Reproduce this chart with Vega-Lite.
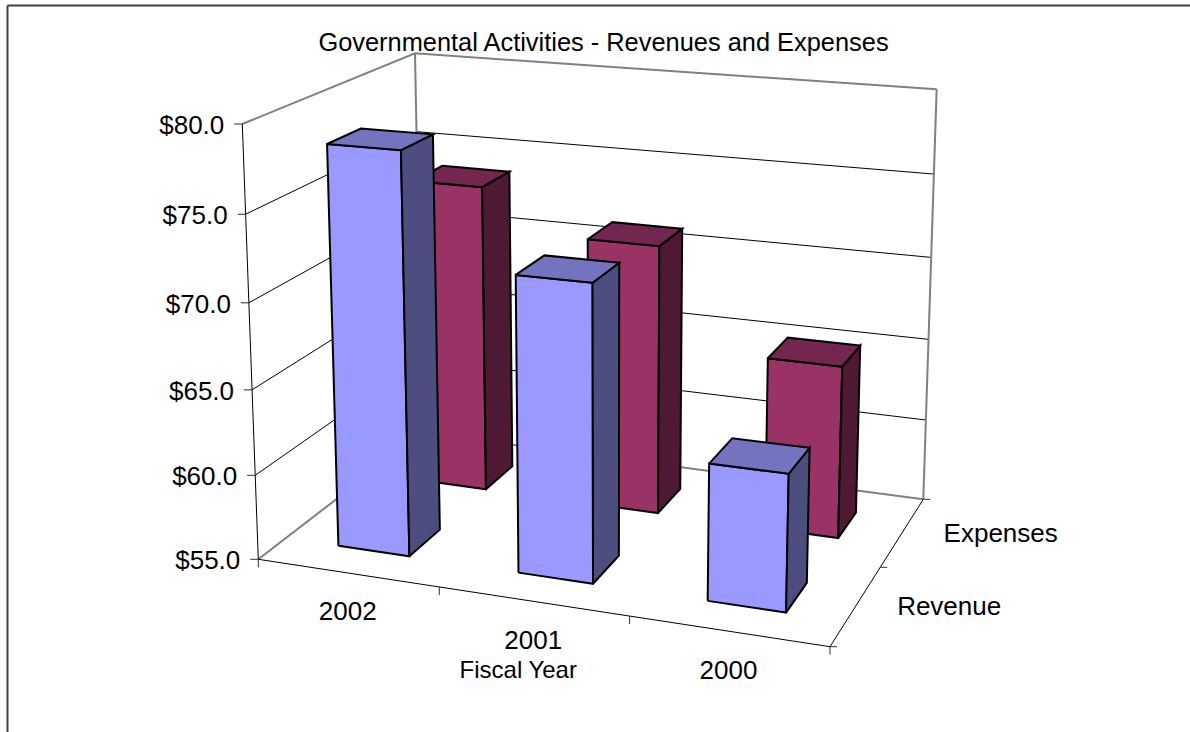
{
  "$schema": "https://vega.github.io/schema/vega-lite/v6.json",
  "width": 1183,
  "height": 727,
  "autosize": "none",
  "padding": {"left": 7, "top": 5, "right": 0, "bottom": 0},
  "background": "white",
  "view": {"stroke": null},
  "config": {"font": "Liberation Sans"},
  "title": {
    "text": "Governmental Activities - Revenues and Expenses",
    "font": "Liberation Sans",
    "fontSize": 25.4,
    "fontWeight": "normal",
    "color": "black",
    "anchor": "middle",
    "dx": 5,
    "offset": -51
  },
  "datasets": {
    "bars": [
      {"year": "2002", "series": "Expenses", "value": 73.85},
      {"year": "2001", "series": "Expenses", "value": 71.3},
      {"year": "2000", "series": "Expenses", "value": 65.3},
      {"year": "2002", "series": "Revenue", "value": 78.45},
      {"year": "2001", "series": "Revenue", "value": 72.1},
      {"year": "2000", "series": "Revenue", "value": 62.8}
    ],
    "levels": [
      {"level": 55}, {"level": 60}, {"level": 65}, {"level": 70}, {"level": 75}, {"level": 80}
    ],
    "yearTicks": [{"tick": 0}, {"tick": 1}, {"tick": 2}, {"tick": 3}],
    "depthTicks": [{"tick": 0}, {"tick": 1}, {"tick": 2}],
    "years": [{"year": "2002", "slot": 0}, {"year": "2001", "slot": 1}, {"year": "2000", "slot": 2}],
    "depths": [{"series": "Revenue", "slot": 0}, {"series": "Expenses", "slot": 1}],
    "axisName": [{"name": "Fiscal Year"}]
  },
  "encoding": {
    "x": {
      "field": "sx",
      "type": "quantitative",
      "scale": {"domain": [7, 1190], "nice": false, "zero": false},
      "axis": {"orient": "top", "title": null, "labels": false, "ticks": false, "grid": false, "domainColor": "#404040", "domainWidth": 2}
    },
    "y": {
      "field": "sy",
      "type": "quantitative",
      "scale": {"domain": [5, 732], "reverse": true, "nice": false, "zero": false},
      "axis": {"orient": "left", "title": null, "labels": false, "ticks": false, "grid": false, "domainColor": "#404040", "domainWidth": 2}
    }
  },
  "layer": [
    {
      "data": {"name": "levels"},
      "transform": [
        {"filter": "datum.level > 55 && datum.level < 80"},
        {"calculate": "[{n:0,X:0,Y:0},{n:1,X:0,Y:1},{n:2,X:1,Y:1}]", "as": "c"},
        {"flatten": ["c"]},
        {"calculate": "datum.c.X", "as": "X"},
        {"calculate": "datum.c.Y", "as": "Y"},
        {"calculate": "(datum.level-55)/25", "as": "Z"},
        {"calculate": "-0.07351*datum.X+0.1548*datum.Y-0.04383*datum.Z+1", "as": "w"},
        {"calculate": "(510.69*datum.X+229.37*datum.Y-26.62*datum.Z+258.3)/datum.w", "as": "sx"},
        {"calculate": "(39.86*datum.X-59.27*datum.Y-440.73*datum.Z-6.5*datum.X*datum.Z+559.3)/datum.w", "as": "sy"},
        {"calculate": "datum.c.n", "as": "n"}
      ],
      "mark": {"type": "line", "stroke": "black", "strokeWidth": 1},
      "encoding": {"detail": {"field": "level"}, "order": {"field": "n", "type": "quantitative"}}
    },
    {
      "data": {"name": "levels"},
      "transform": [
        {"filter": "datum.level === 55 || datum.level === 80"},
        {"calculate": "[{n:0,X:0,Y:0},{n:1,X:0,Y:1},{n:2,X:1,Y:1}]", "as": "c"},
        {"flatten": ["c"]},
        {"calculate": "datum.c.X", "as": "X"},
        {"calculate": "datum.c.Y", "as": "Y"},
        {"calculate": "(datum.level-55)/25", "as": "Z"},
        {"calculate": "-0.07351*datum.X+0.1548*datum.Y-0.04383*datum.Z+1", "as": "w"},
        {"calculate": "(510.69*datum.X+229.37*datum.Y-26.62*datum.Z+258.3)/datum.w", "as": "sx"},
        {"calculate": "(39.86*datum.X-59.27*datum.Y-440.73*datum.Z-6.5*datum.X*datum.Z+559.3)/datum.w", "as": "sy"},
        {"calculate": "datum.c.n", "as": "n"}
      ],
      "mark": {"type": "line", "stroke": "#808080", "strokeWidth": 2},
      "encoding": {"detail": {"field": "level"}, "order": {"field": "n", "type": "quantitative"}}
    },
    {
      "data": {"name": "levels"},
      "transform": [
        {"filter": "datum.level === 55 || datum.level === 80"},
        {"calculate": "[{e:'back left',X:0},{e:'back right',X:1}]", "as": "c"},
        {"flatten": ["c"]},
        {"calculate": "datum.c.X", "as": "X"},
        {"calculate": "datum.c.e", "as": "edge"},
        {"calculate": "(datum.level-55)/25", "as": "Z"},
        {"calculate": "-0.07351*datum.X+0.1548-0.04383*datum.Z+1", "as": "w"},
        {"calculate": "(510.69*datum.X+229.37-26.62*datum.Z+258.3)/datum.w", "as": "sx"},
        {"calculate": "(39.86*datum.X-59.27-440.73*datum.Z-6.5*datum.X*datum.Z+559.3)/datum.w", "as": "sy"}
      ],
      "mark": {"type": "line", "stroke": "#808080", "strokeWidth": 2},
      "encoding": {"detail": {"field": "edge"}, "order": {"field": "level", "type": "quantitative"}}
    },
    {
      "data": {"name": "levels"},
      "transform": [
        {"filter": "datum.level === 55 || datum.level === 80"},
        {"calculate": "(datum.level-55)/25", "as": "Z"},
        {"calculate": "1-0.04383*datum.Z", "as": "w"},
        {"calculate": "(258.3-26.62*datum.Z)/datum.w", "as": "sx"},
        {"calculate": "(559.3-440.73*datum.Z)/datum.w", "as": "sy"}
      ],
      "mark": {"type": "line", "stroke": "black", "strokeWidth": 1},
      "encoding": {"order": {"field": "level", "type": "quantitative"}}
    },
    {
      "data": {"name": "levels"},
      "transform": [
        {"filter": "datum.level === 55"},
        {"calculate": "[{n:0,X:0,Y:0},{n:1,X:1,Y:0},{n:2,X:1,Y:1}]", "as": "c"},
        {"flatten": ["c"]},
        {"calculate": "datum.c.X", "as": "X"},
        {"calculate": "datum.c.Y", "as": "Y"},
        {"calculate": "datum.c.n", "as": "n"},
        {"calculate": "-0.07351*datum.X+0.1548*datum.Y+1", "as": "w"},
        {"calculate": "(510.69*datum.X+229.37*datum.Y+258.3)/datum.w", "as": "sx"},
        {"calculate": "(39.86*datum.X-59.27*datum.Y+559.3)/datum.w", "as": "sy"}
      ],
      "mark": {"type": "line", "stroke": "black", "strokeWidth": 1},
      "encoding": {"order": {"field": "n", "type": "quantitative"}}
    },
    {
      "data": {"name": "bars"},
      "transform": [
        {"calculate": "indexof(['2002','2001','2000'],datum.year)", "as": "slot"},
        {"calculate": "(datum.slot+0.3)/3", "as": "x0"},
        {"calculate": "(datum.slot+0.7)/3", "as": "x1"},
        {"calculate": "datum.series==='Revenue'?0.15:0.65", "as": "y0"},
        {"calculate": "datum.y0+0.19", "as": "y1"},
        {"calculate": "(datum.value-55)/25", "as": "h"},
        {"calculate": "[{f:'front',n:0,u:0,v:0,t:0},{f:'front',n:1,u:1,v:0,t:0},{f:'front',n:2,u:1,v:0,t:1},{f:'front',n:3,u:0,v:0,t:1},{f:'front',n:4,u:0,v:0,t:0},{f:'side',n:0,u:1,v:0,t:0},{f:'side',n:1,u:1,v:1,t:0},{f:'side',n:2,u:1,v:1,t:1},{f:'side',n:3,u:1,v:0,t:1},{f:'side',n:4,u:1,v:0,t:0},{f:'top',n:0,u:0,v:0,t:1},{f:'top',n:1,u:1,v:0,t:1},{f:'top',n:2,u:1,v:1,t:1},{f:'top',n:3,u:0,v:1,t:1},{f:'top',n:4,u:0,v:0,t:1}]", "as": "c"},
        {"flatten": ["c"]},
        {"calculate": "datum.c.n", "as": "n"},
        {"calculate": "datum.series+' '+datum.c.f", "as": "shade"},
        {"calculate": "datum.year+' '+datum.shade", "as": "face"},
        {"calculate": "datum.c.u?datum.x1:datum.x0", "as": "X"},
        {"calculate": "datum.c.v?datum.y1:datum.y0", "as": "Y"},
        {"calculate": "datum.c.t?datum.h:0", "as": "Z"},
        {"calculate": "-0.07351*datum.X+0.1548*datum.Y-0.04383*datum.Z+1", "as": "w"},
        {"calculate": "(510.69*datum.X+229.37*datum.Y-26.62*datum.Z+258.3)/datum.w", "as": "sx"},
        {"calculate": "(39.86*datum.X-59.27*datum.Y-440.73*datum.Z-6.5*datum.X*datum.Z+559.3)/datum.w", "as": "sy"}
      ],
      "mark": {"type": "line", "stroke": "black", "strokeWidth": 2, "strokeJoin": "miter"},
      "encoding": {
        "detail": {"field": "face"},
        "order": {"field": "n", "type": "quantitative"},
        "fill": {
          "field": "shade",
          "type": "nominal",
          "legend": null,
          "scale": {
            "domain": ["Revenue front", "Revenue side", "Revenue top", "Expenses front", "Expenses side", "Expenses top"],
            "range": ["#9999FF", "#4D4D80", "#7373BF", "#993366", "#4D1933", "#732650"]
          }
        }
      }
    },
    {
      "data": {"name": "levels"},
      "transform": [
        {"calculate": "(datum.level-55)/25", "as": "Z"},
        {"calculate": "1-0.04383*datum.Z", "as": "w"},
        {"calculate": "(258.3-26.62*datum.Z)/datum.w", "as": "sx"},
        {"calculate": "(559.3-440.73*datum.Z)/datum.w", "as": "sy"},
        {"calculate": "datum.sx-8", "as": "sx2"}
      ],
      "mark": {"type": "rule", "stroke": "#303030", "strokeWidth": 1},
      "encoding": {"x2": {"field": "sx2"}}
    },
    {
      "data": {"name": "yearTicks"},
      "transform": [
        {"calculate": "datum.tick/3", "as": "X"},
        {"calculate": "-0.07351*datum.X+1", "as": "w"},
        {"calculate": "(510.69*datum.X+258.3)/datum.w", "as": "sx"},
        {"calculate": "(39.86*datum.X+559.3)/datum.w", "as": "sy"},
        {"calculate": "datum.sy+8", "as": "sy2"}
      ],
      "mark": {"type": "rule", "stroke": "#303030", "strokeWidth": 1},
      "encoding": {"y2": {"field": "sy2"}}
    },
    {
      "data": {"name": "depthTicks"},
      "transform": [
        {"calculate": "datum.tick/2", "as": "Y"},
        {"calculate": "0.92649+0.1548*datum.Y", "as": "w"},
        {"calculate": "(768.99+229.37*datum.Y)/datum.w", "as": "sx"},
        {"calculate": "(599.16-59.27*datum.Y)/datum.w", "as": "sy"},
        {"calculate": "datum.sx+7", "as": "sx2"}
      ],
      "mark": {"type": "rule", "stroke": "#303030", "strokeWidth": 1},
      "encoding": {"x2": {"field": "sx2"}}
    },
    {
      "data": {"name": "levels"},
      "transform": [
        {"calculate": "(datum.level-55)/25", "as": "Z"},
        {"calculate": "1-0.04383*datum.Z", "as": "w"},
        {"calculate": "(258.3-26.62*datum.Z)/datum.w-18", "as": "sx"},
        {"calculate": "(559.3-440.73*datum.Z)/datum.w+2", "as": "sy"}
      ],
      "mark": {"type": "text", "align": "right", "baseline": "middle", "fontSize": 26, "color": "black"},
      "encoding": {"text": {"field": "level", "type": "quantitative", "format": "$.1f"}}
    },
    {
      "data": {"name": "years"},
      "transform": [
        {"calculate": "(datum.slot+0.5)/3", "as": "X"},
        {"calculate": "-0.07351*datum.X+1", "as": "w"},
        {"calculate": "(510.69*datum.X+258.3)/datum.w", "as": "sx"},
        {"calculate": "(39.86*datum.X+559.3)/datum.w+39.5", "as": "sy"}
      ],
      "mark": {"type": "text", "align": "center", "baseline": "middle", "fontSize": 26, "color": "black"},
      "encoding": {"text": {"field": "year"}}
    },
    {
      "data": {"name": "depths"},
      "transform": [
        {"calculate": "(datum.slot+0.5)/2", "as": "Y"},
        {"calculate": "0.92649+0.1548*datum.Y", "as": "w"},
        {"calculate": "(768.99+229.37*datum.Y)/datum.w+41", "as": "sx"},
        {"calculate": "(599.16-59.27*datum.Y)/datum.w+2", "as": "sy"}
      ],
      "mark": {"type": "text", "align": "left", "baseline": "middle", "fontSize": 26, "color": "black"},
      "encoding": {"text": {"field": "series"}}
    },
    {
      "data": {"name": "axisName"},
      "transform": [
        {"calculate": "0.96325", "as": "w"},
        {"calculate": "513.645/datum.w-15", "as": "sx"},
        {"calculate": "579.23/datum.w+70", "as": "sy"}
      ],
      "mark": {"type": "text", "align": "center", "baseline": "middle", "fontSize": 24, "color": "black"},
      "encoding": {"text": {"field": "name"}}
    }
  ]
}
